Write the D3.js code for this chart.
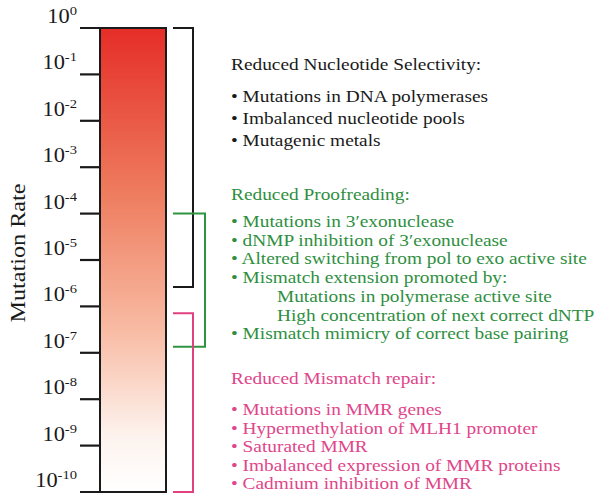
<!DOCTYPE html>
<html><head><meta charset="utf-8">
<script src="https://cdn.jsdelivr.net/npm/d3@7/dist/d3.min.js"></script>
<style>body{margin:0;background:#fff}svg{display:block}</style>
</head><body>
<script>
// ---- data ----
const exponents = [0,-1,-2,-3,-4,-5,-6,-7,-8,-9,-10];
const axisTitle = "Mutation Rate";
const bracketNames = ["Reduced Nucleotide Selectivity","Reduced Proofreading","Reduced Mismatch repair"];
const bracketTop = [0, -4, -6.15];      // log10 of upper rate
const bracketBottom = [-5.58, -6.87, -10];
const bracketColors = ["#1a1a1a","#2e9440","#e0407e"];
const textColors = ["#1a1a1a","#2f8f3f","#e0468a"];
const gradientOffsets = [0, 0.35, 0.65, 0.88, 1];
const gradientColors = ["#e52d27","#ee7b5d","#f8bba3","#fdf3ee","#ffffff"];
const titles = ["Reduced Nucleotide Selectivity:","Reduced Proofreading:","Reduced Mismatch repair:"];
const items1 = ["Mutations in DNA polymerases","Imbalanced nucleotide pools","Mutagenic metals"];
const items2 = ["Mutations in 3\u2032exonuclease","dNMP inhibition of 3\u2032exonuclease","Altered switching from pol to exo active site","Mismatch extension promoted by:","  Mutations in polymerase active site","  High concentration of next correct dNTP","Mismatch mimicry of correct base pairing"];
const items3 = ["Mutations in MMR genes","Hypermethylation of MLH1 promoter","Saturated MMR","Imbalanced expression of MMR proteins","Cadmium inhibition of MMR"];

// ---- drawing ----
const W = 601, H = 502;
const font = "'Liberation Serif','Times New Roman',serif";
const svg = d3.select("body").append("svg").attr("width", W).attr("height", H);
const y = d3.scaleLinear().domain([0, -10]).range([28, 492]);
const barX0 = 100, barX1 = 166;

const defs = svg.append("defs");
const grad = defs.append("linearGradient").attr("id","g").attr("x1",0).attr("x2",0).attr("y1",0).attr("y2",1);
gradientOffsets.forEach((o,i)=>grad.append("stop").attr("offset",o).attr("stop-color",gradientColors[i]));

svg.append("rect").attr("x",barX0).attr("y",y(0)).attr("width",barX1-barX0).attr("height",y(-10)-y(0))
  .attr("fill","url(#g)").attr("stroke","#1a1a1a").attr("stroke-width",2);

// ticks
svg.selectAll("line.tick").data(exponents).join("line")
  .attr("x1", 80).attr("x2", d => (d===0||d===-10)?barX1:barX0)
  .attr("y1", d=>y(d)).attr("y2", d=>y(d))
  .attr("stroke","#1a1a1a").attr("stroke-width",2.2);

// tick labels
const lab = svg.selectAll("text.tl").data(exponents).join("text")
  .attr("transform", d=>`translate(77,${y(d)-5}) scale(1.12,1)`).attr("text-anchor","end")
  .attr("font-family",font).attr("font-size",20).attr("fill","#1a1a1a");
lab.append("tspan").text("10");
lab.append("tspan").attr("dy",-8).attr("font-size",13).text(d=>d===0?"0":"-"+(-d));

// axis title
svg.append("text").attr("transform","translate(25,253) rotate(-90) scale(1.1,1)").attr("text-anchor","middle")
  .attr("font-family",font).attr("font-size",22).attr("fill","#1a1a1a").text(axisTitle);

// brackets
const bx = [193, 205, 193];
bracketNames.forEach((n,i)=>{
  const t = y(bracketTop[i]), b = y(bracketBottom[i]);
  svg.append("path").attr("d",`M173,${t}H${bx[i]}V${b}H173`).attr("fill","none")
    .attr("stroke",bracketColors[i]).attr("stroke-width",2);
});

// text blocks (font slightly stretched horizontally, as in the reference)
const sx = 1.18;
function line(g, x, yy, s){
  g.append("text").attr("transform",`translate(${x},${yy}) scale(${sx},1)`).text(s);
}
function block(title, items, color, titleY, firstY, step){
  const g = svg.append("g").attr("font-family",font).attr("fill",color).attr("font-size",16.4);
  line(g, 231, titleY, title);
  items.forEach((it,k)=>{
    const yy = firstY + k*step;
    if (it.startsWith("  ")) line(g, 277, yy, it.trim());
    else line(g, 231, yy, "\u2022 "+it);
  });
}
block(titles[0], items1, textColors[0], 70, 102, 21.8);
block(titles[1], items2, textColors[1], 200, 227, 18.7);
block(titles[2], items3, textColors[2], 384, 415, 18.6);
</script>
</body></html>
